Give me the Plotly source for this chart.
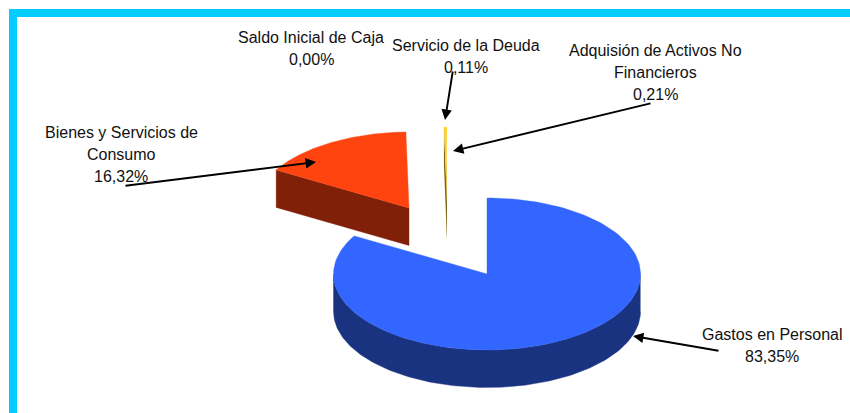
import numpy as np
import plotly.graph_objects as go

categories = ["Gastos en Personal", "Bienes y Servicios de Consumo",
              "Adquisión de Activos No Financieros", "Servicio de la Deuda",
              "Saldo Inicial de Caja"]
shares = [83.35, 16.32, 0.21, 0.11, 0.00]
label_lines = [["Gastos en Personal"], ["Bienes y Servicios de", "Consumo"],
               ["Adquisión de Activos No", "Financieros"], ["Servicio de la Deuda"],
               ["Saldo Inicial de Caja"]]
top_colors = ["#3366FF", "#FF4410", "#FFCC33", "#FFD633", "#999999"]
side_colors = ["#1A3380", "#802008", "#806619", "#806B19", "#4D4D4D"]

# Layout of the pseudo-3D pie (pixel space)
W, H = 850, 413
CX, CY, RX, RY, DEPTH = 487, 274, 153.5, 76, 37.5
explode = [(0, 0), (-78, -66), (-40, -71), (-40, -71), (-40, -71)]
label_pos = [(772, 334), (121, 132), (655, 50), (466, 45), (311, 37)]
LINE_STEP = 22
arrows = [((720, 351), (633, 336)), ((124, 186), (316, 162)), ((652, 103), (453, 151)),
          ((453, 70), (445, 120)), None]


def arc(t0, t1, n=160):
    return np.radians(np.linspace(t0, t1, max(n, 2)))


def ex(t):
    return RX * np.sin(t)


def ey(t):
    return -RY * np.cos(t)


fig = go.Figure()


def poly(x, y, color, name, edge=0.4):
    fig.add_trace(go.Scatter(x=x, y=y, mode="lines", fill="toself", fillcolor=color,
                             line=dict(width=edge, color=color), hoverinfo="text", text=name,
                             showlegend=False))


total = sum(shares)
edges = np.concatenate([[0], np.cumsum(shares)]) / total * 360
for i, (name, share) in enumerate(zip(categories, shares)):
    if share <= 0:
        continue
    t0, t1 = edges[i], edges[i + 1]
    ox, oy = CX + explode[i][0], CY + explode[i][1]
    t = arc(t0, t1)
    edge = 0.4 if share > 1 else 0
    # outer wall: only the part of the rim that faces the viewer
    lo, hi = max(t0, 90), min(t1, 270)
    if lo < hi:
        w = arc(lo, hi)
        poly(np.r_[ox + ex(w), (ox + ex(w))[::-1]],
             np.r_[oy + ey(w), (oy + ey(w) + DEPTH)[::-1]], side_colors[i], name, edge)
    # cut face at the start of the sweep, visible when it opens to the viewer
    if t0 > 180:
        a = np.radians(t0)
        poly([ox, ox + ex(a), ox + ex(a), ox, ox],
             [oy, oy + ey(a), oy + ey(a) + DEPTH, oy + DEPTH, oy], side_colors[i], name, edge)
    # top face
    poly(np.r_[ox, ox + ex(t), ox], np.r_[oy, oy + ey(t), oy], top_colors[i], name, edge)

shapes = [
    dict(type="rect", xref="x", yref="y", x0=9, x1=W, y0=9, y1=17,
         fillcolor="#00CCFF", line_width=0),
    dict(type="rect", xref="x", yref="y", x0=9, x1=17, y0=9, y1=H,
         fillcolor="#00CCFF", line_width=0),
]

annotations = []
for i, (lines, share) in enumerate(zip(label_lines, shares)):
    pct = f"{share:.2f}".replace(".", ",") + "%"
    for k, line in enumerate(lines + [pct]):
        annotations.append(dict(x=label_pos[i][0], y=label_pos[i][1] + k * LINE_STEP,
                                xref="x", yref="y", text=line, showarrow=False,
                                font=dict(family="Liberation Sans", size=16, color="#111111")))
for a in arrows:
    if a is None:
        continue
    (x0, y0), (x1, y1) = a
    annotations.append(dict(x=x1, y=y1, ax=x0, ay=y0, xref="x", yref="y", axref="x", ayref="y",
                            text="", showarrow=True, arrowhead=2, arrowsize=1.1, arrowwidth=1.9,
                            arrowcolor="#000000", standoff=0, startstandoff=0))

fig.update_layout(
    width=W, height=H, margin=dict(l=0, r=0, t=0, b=0),
    paper_bgcolor="white", plot_bgcolor="white", showlegend=False,
    xaxis=dict(range=[0, W], visible=False, fixedrange=True),
    yaxis=dict(range=[H, 0], visible=False, fixedrange=True),
    shapes=shapes, annotations=annotations,
)
fig.write_html("out.html", config={"displayModeBar": False},
               post_script="document.body.style.margin='0';document.documentElement.style.overflow='hidden';")
